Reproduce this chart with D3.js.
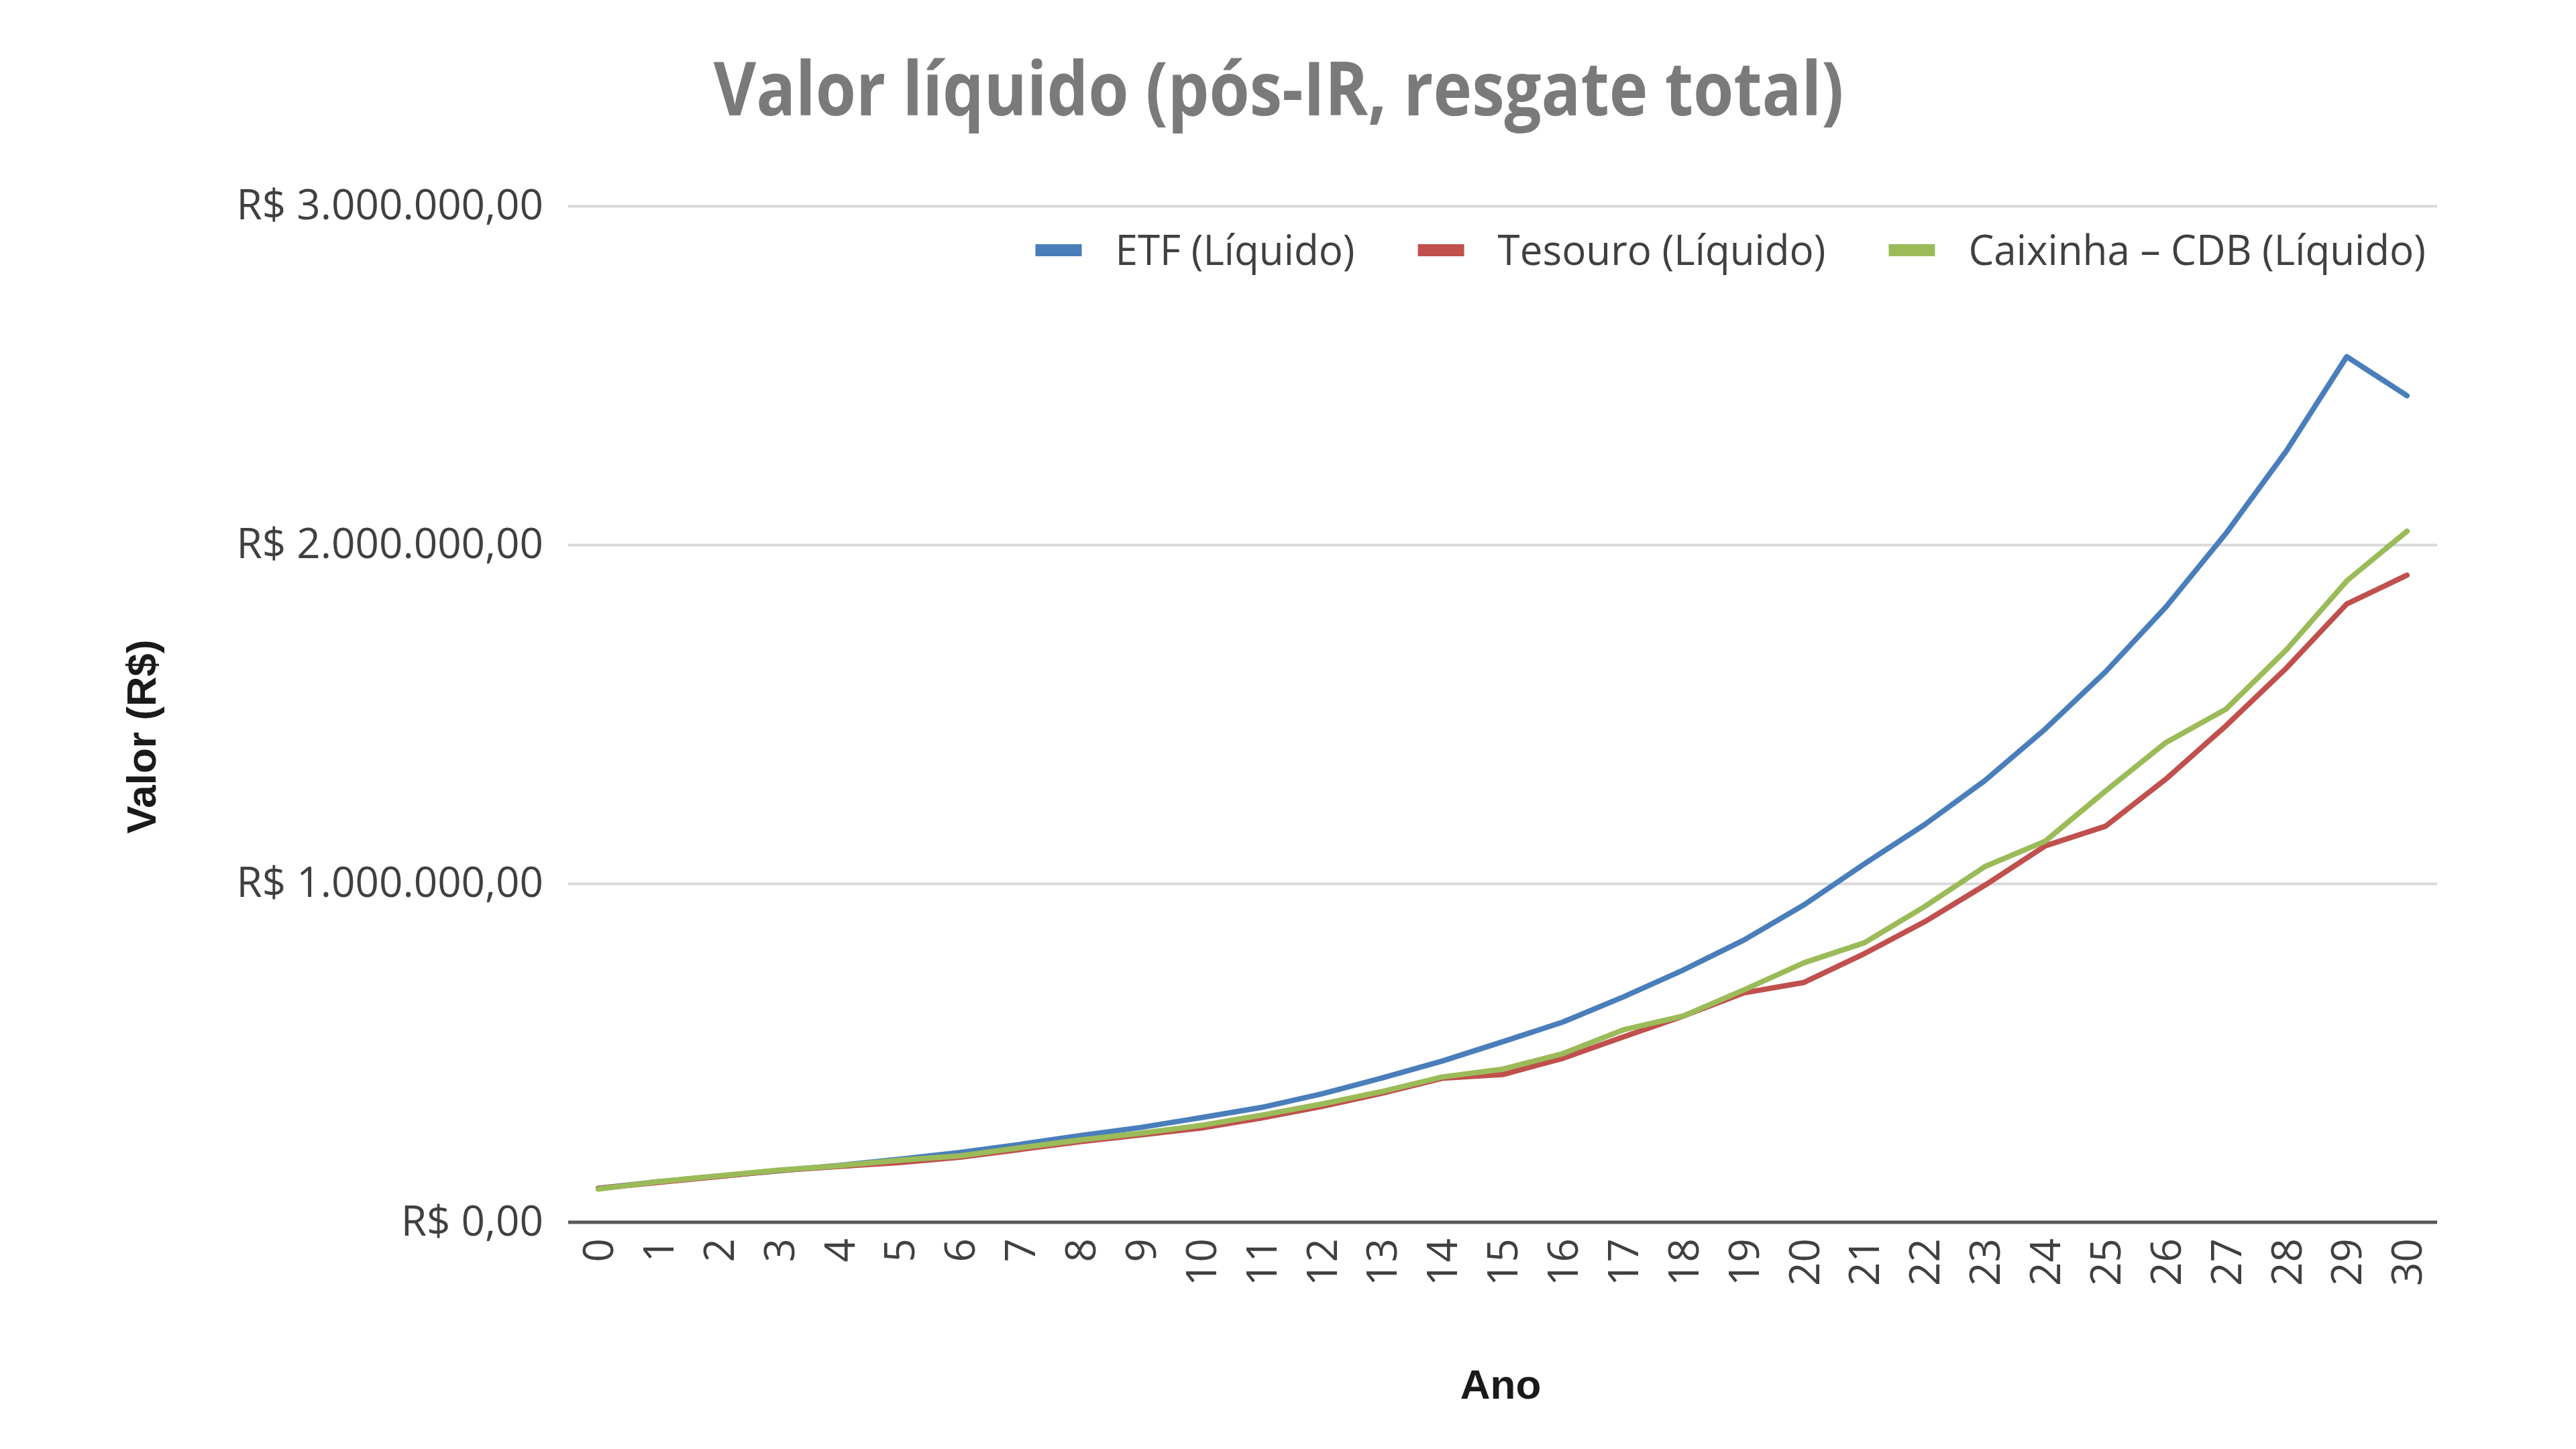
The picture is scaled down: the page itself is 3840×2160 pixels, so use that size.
<!DOCTYPE html>
<html lang="pt-BR">
<head>
  <meta charset="UTF-8">
  <title>Valor líquido (pós-IR, resgate total)</title>
  <style>
    body {
      margin: 0;
      background: #fff;
    }
    svg {
      display: block;
    }
    .tick-label {
      font-family: "Open Sans", sans-serif;
      font-size: 62px;
      fill: #404040;
    }
    .axis-title {
      font-family: "Liberation Sans", Arial, sans-serif;
      font-weight: bold;
      font-size: 62px;
      fill: #1a1a1a;
    }
    .grid line {
      stroke: #d9d9d9;
      stroke-width: 4px;
    }
    .serie {
      fill: none;
      stroke-width: 8px;
      stroke-linejoin: round;
      stroke-linecap: round;
    }
  </style>
</head>
<body>
  <svg width="3840" height="2160"></svg>
  <script src="https://d3js.org/d3.v7.min.js"></script>
  <script>
    // anos do eixo X
    const anos = d3.range(0, 31);

    // valores (R$)
    const etfLiquido = [
      100000, 120000, 136000, 152000, 168000, 186000, 206000, 230000, 256000, 280000,
      309000, 339000, 379000, 426000, 476000, 533000, 591000, 665000, 745000, 833000,
      937000, 1058000, 1174000, 1304000, 1456000, 1625000, 1816000, 2034000, 2277000, 2555000,
      2440000
    ];
    const tesouroLiquido = [
      100000, 118000, 135000, 153000, 165000, 176000, 192000, 215000, 238000, 258000,
      278000, 308000, 342000, 381000, 425000, 436000, 484000, 547000, 609000, 677000,
      708000, 793000, 887000, 995000, 1111000, 1169000, 1308000, 1466000, 1636000, 1825000,
      1910000
    ];
    const caixinhaLiquido = [
      98000, 120000, 137000, 154000, 167000, 183000, 196000, 220000, 243000, 263000,
      286000, 316000, 349000, 386000, 429000, 452000, 498000, 568000, 609000, 686000,
      766000, 825000, 932000, 1050000, 1125000, 1273000, 1416000, 1515000, 1690000, 1893000,
      2040000
    ];

    const nomesSeries = ["ETF (Líquido)", "Tesouro (Líquido)", "Caixinha – CDB (Líquido)"];
    const coresSeries = ["#4a7ebb", "#c0504d", "#9bbb59"];
    const yTicks = [0, 1000000, 2000000, 3000000];

    const titulo = "Valor líquido (pós-IR, resgate total)";
    const tituloX = "Ano";
    const tituloY = "Valor (R$)";

    const series = [etfLiquido, tesouroLiquido, caixinhaLiquido].map((vals, k) => ({
      nome: nomesSeries[k],
      cor: coresSeries[k],
      pontos: anos.map((a, i) => ({ ano: a, valor: vals[i] }))
    }));

    const plot = { left: 847, right: 3633, top: 307, bottom: 1822 };

    const svg = d3.select("svg");

    const brl = d3.formatLocale({
      decimal: ",",
      thousands: ".",
      grouping: [3],
      currency: ["R$ ", ""]
    }).format("$,.2f");

    const x = d3.scalePoint()
      .domain(anos)
      .range([plot.left, plot.right])
      .padding(0.5);

    const y = d3.scaleLinear()
      .domain([0, 3000000])
      .range([plot.bottom, plot.top]);

    function condense(sel, k) {
      sel.each(function () {
        const w = this.getComputedTextLength();
        d3.select(this)
          .attr("textLength", w * k)
          .attr("lengthAdjust", "spacingAndGlyphs");
      });
    }

    // linhas de grade
    svg.append("g")
      .attr("class", "grid")
      .attr("transform", `translate(${plot.left},0)`)
      .call(d3.axisLeft(y).tickValues(yTicks.slice(1)).tickSize(-(plot.right - plot.left)).tickFormat(""))
      .call(g => g.select(".domain").remove());

    // eixo Y (rótulos)
    svg.append("g")
      .attr("transform", `translate(${plot.left},0)`)
      .call(d3.axisLeft(y).tickValues(yTicks).tickSize(0).tickPadding(37).tickFormat(brl))
      .call(g => g.select(".domain").remove())
      .call(g => g.selectAll("text")
        .attr("class", "tick-label")
        .attr("fill", null)
        .attr("font-size", null)
        .attr("font-family", null));

    // eixo X
    svg.append("g")
      .attr("transform", `translate(0,${plot.bottom})`)
      .call(d3.axisBottom(x).tickSize(0).tickPadding(0))
      .call(g => g.select(".domain")
        .attr("stroke", "#595959")
        .attr("stroke-width", 5)
        .attr("d", `M${plot.left},0H${plot.right}`))
      .call(g => g.selectAll("text")
        .attr("class", "tick-label")
        .attr("fill", null)
        .attr("font-size", null)
        .attr("font-family", null)
        .attr("text-anchor", "end")
        .attr("y", 0)
        .attr("dy", "0.35em")
        .attr("transform", "translate(0,24) rotate(-90)"));

    // séries
    const linha = d3.line()
      .x(d => x(d.ano))
      .y(d => y(d.valor));

    svg.append("g")
      .selectAll("path")
      .data(series)
      .join("path")
      .attr("class", "serie")
      .attr("stroke", d => d.cor)
      .attr("d", d => linha(d.pontos));

    // título
    svg.append("text")
      .attr("x", 1906)
      .attr("y", 172)
      .attr("text-anchor", "middle")
      .style("font-family", "'Open Sans', sans-serif")
      .style("font-weight", 700)
      .style("font-size", "112px")
      .style("fill", "#7a7a7a")
      .text(titulo)
      .call(condense, 0.87);

    // títulos dos eixos
    svg.append("text")
      .attr("class", "axis-title")
      .attr("x", 2237)
      .attr("y", 2085)
      .attr("text-anchor", "middle")
      .text(tituloX);

    svg.append("text")
      .attr("class", "axis-title")
      .attr("text-anchor", "middle")
      .attr("transform", "translate(232,1098) rotate(-90)")
      .text(tituloY);

    // legenda (alinhada à direita)
    const legenda = svg.append("g").attr("transform", "translate(0,373)");
    const itens = legenda.selectAll("g")
      .data(series)
      .join("g");
    itens.append("rect")
      .attr("y", -9)
      .attr("width", 69)
      .attr("height", 18)
      .attr("fill", d => d.cor);
    itens.append("text")
      .attr("class", "tick-label")
      .attr("x", 119)
      .attr("y", 22)
      .text(d => d.nome)
      .call(condense, 0.97);

    const larguras = [];
    itens.select("text").each(function () { larguras.push(+this.getAttribute("textLength")); });
    const total = d3.sum(larguras, w => 119 + w) + 94 * (larguras.length - 1);
    let lx = 3616 - total;
    itens.attr("transform", (d, i) => {
      const pos = lx;
      lx += 119 + larguras[i] + 94;
      return `translate(${pos},0)`;
    });
  </script>
</body>
</html>
